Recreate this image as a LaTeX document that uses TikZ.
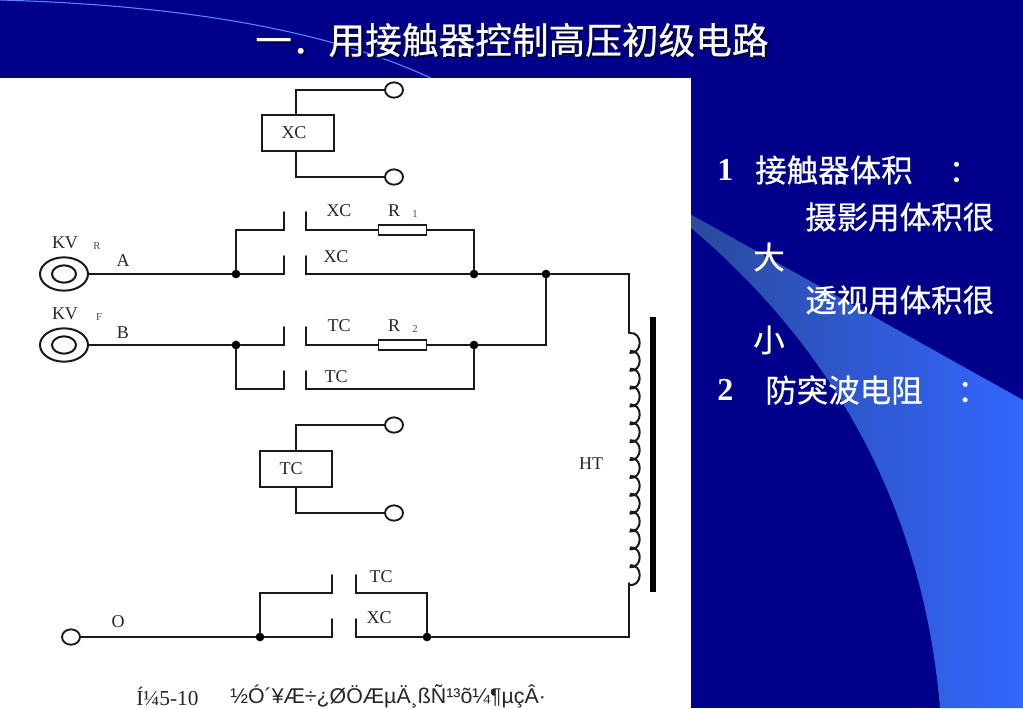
\documentclass[tikz,border=0pt]{standalone}
\usepackage{fontspec}
\setmainfont{Liberation Serif}
\newfontfamily\cjkf[FakeBold=0.5]{Noto Sans CJK SC}
\newfontfamily\capf{Liberation Sans}
\usetikzlibrary{calc,shapes.geometric}
\definecolor{slidebg}{HTML}{00008B}
\definecolor{wedgehi}{HTML}{3366FF}
\definecolor{wedgelo}{HTML}{2A4A9E}
\definecolor{shadowc}{HTML}{000040}
\tikzset{
 x=0.75pt,y=-0.75pt,
 wire/.style={line width=1.5pt,black!90,line cap=round,line join=miter},
 box/.style={draw=black!90,line width=1.5pt,fill=white,minimum width=54pt,minimum height=27pt,inner sep=0pt},
 res/.style={draw=black!90,line width=1.4pt,fill=white,minimum width=36pt,minimum height=8pt,inner sep=0pt},
 term/.style={draw=black!90,line width=1.4pt,fill=white,ellipse,minimum width=13.5pt,minimum height=11.5pt,inner sep=0pt},
 meter/.style={draw=black!90,line width=1.5pt,ellipse,inner sep=0pt},
 dot/.style={circle,fill=black,minimum size=6.5pt,inner sep=0pt},
 lab/.style={font=\fontsize{13.5}{13.5}\selectfont,text=black!85,inner sep=0pt},
 sub/.style={font=\fontsize{8}{8}\selectfont,text=black!70,inner sep=0pt},
 ttl/.style={font=\cjkf\fontsize{27.5}{27.5}\selectfont,inner sep=0pt,anchor=west},
 body/.style={font=\cjkf\fontsize{23.6}{23.6}\selectfont,text=white,inner sep=0pt,anchor=west},
 num/.style={font=\bfseries\fontsize{24}{24}\selectfont,text=white,inner sep=0pt,anchor=west},
}
\begin{document}
\begin{tikzpicture}
\useasboundingbox (0,0) rectangle (1023,708);
% slide background
\fill[slidebg] (0,0) rectangle (1023,708);
\shade[left color=wedgelo,middle color=wedgehi,right color=wedgehi,shading angle=90]
  (690,214) -- (1023,400) -- (1023,708) -- (940,708)
  .. controls (920,470) and (800,320) .. (690,227) -- cycle;
\draw[wedgehi!80,line width=0.8pt] (0,0) .. controls (180,5) and (330,30) .. (435,80);
\fill[white] (0,78) rectangle (691,708);
% title
\node[ttl,text=shadowc] at (257,42) {一．用接触器控制高压初级电路};
\node[ttl,text=white] (title) at (255,40) {一．用接触器控制高压初级电路};
% right text
\node[num] (n1) at (717,170) {1};
\node[body] (l1) at (755,170) {接触器体积\hspace{27pt}：};
\node[body] (l2) at (805,217) {摄影用体积很};
\node[body] (l3) at (753,257) {大};
\node[body] (l4) at (805,300) {透视用体积很};
\node[body] (l5) at (753,340) {小};
\node[num] (n2) at (717,390) {2};
\node[body] (l6) at (765,390) {防突波电阻\hspace{26pt}：};
% XC coil
\node[box] (xcbox) at (298,133) {};
\node[lab] (xclab) at (294,133) {XC};
\node[term] (t1) at (394,90) {};
\node[term] (t2) at (394,177) {};
\draw[wire] (t1) -- (296,90) -- (296,115);
\draw[wire] (296,151) -- (296,177) -- (t2);
% TC coil
\node[box] (tcbox) at (295.5,469) {};
\node[lab] (tclab) at (291,469) {TC};
\node[term] (t3) at (394,425) {};
\node[term] (t4) at (394,513) {};
\draw[wire] (t3) -- (296,425) -- (296,451);
\draw[wire] (296,487) -- (296,513) -- (t4);
% KV meters
\node[meter,minimum width=36pt,minimum height=25pt] (kvr) at (64,274) {};
\node[meter,minimum width=18pt,minimum height=13pt] (kvri) at (64,274) {};
\node[meter,minimum width=36pt,minimum height=25pt] (kvf) at (64,345) {};
\node[meter,minimum width=18pt,minimum height=13pt] (kvfi) at (64,345) {};
% resistors
\node[res] (r1) at (402.5,230) {};
\node[res] (r2) at (402.5,345) {};
% junctions
\node[dot] (ja) at (236,274) {};
\node[dot] (jb) at (474,274) {};
\node[dot] (jc) at (546,274) {};
\node[dot] (jd) at (236,345) {};
\node[dot] (je) at (474,345) {};
\node[dot] (jf) at (260,637) {};
\node[dot] (jg) at (427,637) {};
\node[term] (to) at (71,637) {};
% rows
\draw[wire] (kvr) -- (ja) -- (284,274) -- (284,256);
\draw[wire] (ja) -- (236,230) -- (284,230) -- (284,212);
\draw[wire] (306,212) -- (306,230) -- (r1);
\draw[wire] (r1) -- (474,230) -- (jb);
\draw[wire] (306,256) -- (306,274) -- (jb) -- (jc) -- (629,274) -- (629,333);
\draw[wire] (kvf) -- (jd) -- (284,345) -- (284,327);
\draw[wire] (306,327) -- (306,345) -- (r2);
\draw[wire] (r2) -- (je) -- (546,345) -- (jc);
\draw[wire] (jd) -- (236,389) -- (284,389) -- (284,371);
\draw[wire] (306,371) -- (306,389) -- (474,389) -- (je);
% bottom row
\draw[wire] (to) -- (jf) -- (332,637) -- (332,619);
\draw[wire] (jf) -- (260,593) -- (332,593) -- (332,575);
\draw[wire] (356,575) -- (356,593) -- (427,593) -- (jg);
\draw[wire] (356,619) -- (356,637) -- (jg) -- (629,637) -- (629,583);
% coil
\draw[line width=1.5pt,black!90]
  \foreach \k in {0,...,13} {
    (630,{333+\k*17.86}) .. controls (643,{333+\k*17.86-1}) and (643,{333+\k*17.86+21}) .. (629.5,{333+\k*17.86+20})
  };
% core
\fill[black] (650,317) rectangle (655.5,592);
% labels
\node[lab] (lkv1) at (65,243) {KV};
\node[sub] (lr) at (97,246) {R};
\node[lab] (la) at (123,261) {A};
\node[lab] (lkv2) at (65,314) {KV};
\node[sub] (lf) at (99,317) {F};
\node[lab] (lb) at (123,333) {B};
\node[lab] (lx1) at (339,211) {XC};
\node[lab] (lr1) at (394,211) {R};
\node[sub] (l1s) at (415,214) {1};
\node[lab] (lx2) at (336,257) {XC};
\node[lab] (lt1) at (339,326) {TC};
\node[lab] (lr2) at (394,326) {R};
\node[sub] (l2s) at (415,329) {2};
\node[lab] (lt2) at (336,377) {TC};
\node[lab] (lht) at (591,464) {HT};
\node[lab] (lt3) at (381,577) {TC};
\node[lab] (lx3) at (379,618) {XC};
\node[lab] (lo) at (118,622) {O};
\node[lab,anchor=west,font=\fontsize{16}{16}\selectfont] (cap1) at (136,696) {Í¼5-10};
\node[lab,anchor=west,font=\capf\fontsize{16}{16}\selectfont] (cap2) at (230,696) {½Ó´¥Æ÷¿ØÖÆµÄ¸ßÑ¹³õ¼¶µçÂ·};
\end{tikzpicture}
\end{document}
